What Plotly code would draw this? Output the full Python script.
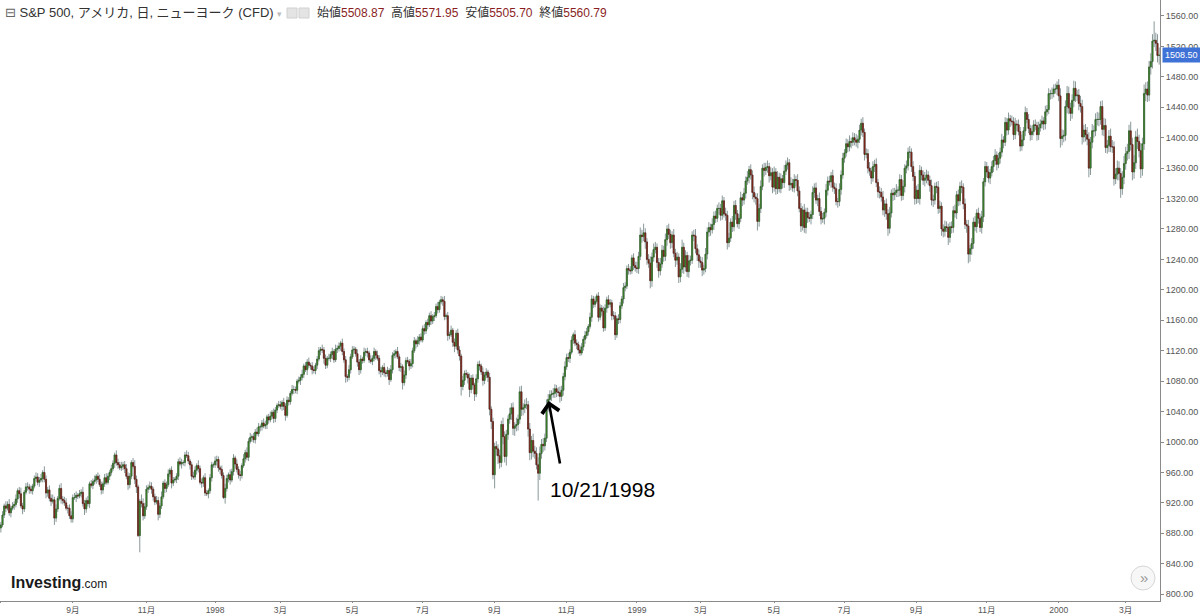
import pandas as pd
import plotly.graph_objects as go

# NYSE holidays in the charted span
holidays = [
    "1997-07-04", "1997-09-01", "1997-11-27", "1997-12-25",
    "1998-01-01", "1998-01-19", "1998-02-16", "1998-04-10", "1998-05-25",
    "1998-07-03", "1998-09-07", "1998-11-26", "1998-12-25",
    "1999-01-01", "1999-01-18", "1999-02-15", "1999-04-02", "1999-05-31",
    "1999-07-05", "1999-09-06", "1999-11-25", "1999-12-24",
    "2000-01-17", "2000-02-21",
]

first_open = 887

# daily closes, one line per month
closes_1997 = [
    891, 904, 916, 913, 918, 907, 913, 916, 918, 925, 936, 932, 916, 912, 934, 941, 941, 938, 936, 942, 952, 954,
    947, 950, 952, 960, 951, 933, 937, 926, 922, 924, 900, 912, 926, 939, 925, 923, 920, 913, 913, 903, 899,
    927, 927, 930, 929, 932, 934, 919, 912, 923, 919, 945, 943, 948, 950, 955, 951, 944, 937, 945, 953, 947,
    955, 960, 965, 972, 983, 973, 970, 966, 968, 970, 965, 955, 944, 955, 973, 968, 951, 941, 877, 922, 919, 903, 915,
    938, 940, 942, 938, 928, 921, 923, 905, 916, 928, 946, 939, 944, 958, 963, 946, 950, 951, 955,
    974, 971, 973, 973, 983, 982, 975, 970, 955, 954, 963, 969, 965, 947, 946, 953, 933, 932, 936, 953, 970, 970,
]
closes_1998 = [
    975, 977, 966, 964, 956, 927, 939, 952, 957, 950, 961, 979, 971, 964, 957, 956, 969, 978, 986, 980,
    1001, 1006, 1007, 1003, 1013, 1011, 1020, 1020, 1025, 1021, 1023, 1033, 1029, 1034, 1039, 1031, 1042, 1048, 1049,
    1047, 1052, 1047, 1035, 1055, 1053, 1064, 1069, 1069, 1068, 1080, 1081, 1085, 1089, 1100, 1095, 1105, 1101, 1100, 1095, 1094, 1101,
    1109, 1120, 1122, 1121, 1110, 1101, 1110, 1110, 1115, 1119, 1108, 1122, 1123, 1126, 1130, 1119, 1108, 1086, 1085, 1095, 1112,
    1121, 1122, 1116, 1105, 1095, 1109, 1107, 1118, 1119, 1117, 1108, 1106, 1110, 1119, 1114, 1110, 1094, 1092, 1098, 1091,
    1090, 1094, 1082, 1095, 1114, 1116, 1119, 1112, 1098, 1099, 1078, 1088, 1107, 1106, 1100, 1103, 1120, 1133, 1129, 1133, 1138, 1134,
    1149, 1146, 1157, 1154, 1166, 1159, 1165, 1166, 1178, 1174, 1184, 1187, 1185, 1165, 1166, 1140, 1141, 1147, 1131, 1126, 1143, 1121,
    1113, 1073, 1081, 1090, 1089, 1084, 1069, 1084, 1075, 1063, 1083, 1102, 1100, 1092, 1081, 1088, 1092, 1085, 1043, 1027, 957,
    994, 991, 982, 973, 1023, 1007, 981, 1010, 1030, 1037, 1045, 1018, 1021, 1023, 1030, 1066, 1043, 1045, 1049, 1049, 1017,
    986, 1002, 988, 985, 970, 959, 985, 997, 995, 1005, 1047, 1056, 1062, 1063, 1064, 1070, 1066, 1065, 1060, 1068, 1086, 1099,
    1111, 1110, 1118, 1134, 1141, 1130, 1128, 1121, 1117, 1125, 1135, 1140, 1145, 1152, 1164, 1188, 1181, 1185, 1192, 1164,
    1176, 1172, 1150, 1176, 1187, 1181, 1183, 1166, 1166, 1141, 1162, 1161, 1179, 1188, 1203, 1205, 1228, 1226, 1225, 1242, 1232, 1229,
]
closes_1999 = [
    1228, 1244, 1272, 1270, 1275, 1263, 1240, 1235, 1212, 1243, 1253, 1256, 1236, 1225, 1234, 1252, 1244, 1266, 1280,
    1273, 1262, 1272, 1248, 1239, 1243, 1217, 1227, 1256, 1230, 1245, 1224, 1238, 1239, 1272, 1271, 1254, 1246, 1238,
    1236, 1226, 1228, 1247, 1276, 1282, 1279, 1286, 1297, 1294, 1307, 1307, 1298, 1317, 1300, 1298, 1262, 1268, 1289, 1283, 1311, 1300, 1287,
    1294, 1321, 1318, 1327, 1343, 1348, 1358, 1351, 1328, 1322, 1320, 1290, 1307, 1336, 1360, 1357, 1361, 1362, 1350, 1354, 1335,
    1355, 1333, 1348, 1333, 1346, 1341, 1356, 1364, 1367, 1338, 1340, 1334, 1345, 1344, 1330, 1307, 1284, 1305, 1282, 1302,
    1295, 1294, 1299, 1328, 1334, 1318, 1320, 1303, 1293, 1294, 1302, 1331, 1343, 1342, 1350, 1335, 1333, 1316, 1316, 1332, 1351, 1373,
    1380, 1392, 1388, 1395, 1394, 1400, 1397, 1394, 1398, 1410, 1419, 1407, 1378, 1379, 1360, 1356, 1347, 1362, 1365, 1341, 1329,
    1328, 1322, 1305, 1313, 1300, 1281, 1301, 1327, 1325, 1328, 1331, 1331, 1345, 1324, 1336, 1360, 1363, 1381, 1381, 1362, 1349, 1320,
    1331, 1320, 1357, 1351, 1344, 1347, 1351, 1344, 1337, 1318, 1318, 1336, 1335, 1307, 1310, 1280, 1277, 1283, 1282, 1269, 1283,
    1282, 1304, 1301, 1325, 1317, 1336, 1335, 1313, 1286, 1284, 1247, 1254, 1261, 1289, 1283, 1301, 1294, 1282, 1296, 1342, 1362,
    1355, 1347, 1354, 1362, 1370, 1377, 1365, 1373, 1381, 1397, 1394, 1420, 1410, 1425, 1422, 1421, 1404, 1418, 1417, 1408, 1389,
    1397, 1409, 1433, 1424, 1412, 1404, 1408, 1417, 1416, 1404, 1413, 1418, 1422, 1418, 1434, 1437, 1458, 1458, 1458, 1464, 1464, 1469,
]
closes_2000 = [
    1455, 1399, 1402, 1403, 1441, 1458, 1439, 1432, 1449, 1465, 1455, 1456, 1445, 1441, 1401, 1410, 1404, 1398, 1360, 1394,
    1409, 1409, 1424, 1424, 1424, 1441, 1411, 1416, 1387, 1390, 1402, 1388, 1388, 1346, 1352, 1360, 1353, 1333, 1348, 1366,
    1379, 1382, 1409, 1391, 1355, 1367, 1401, 1395, 1383, 1359, 1392, 1458, 1464, 1456, 1493, 1500, 1527, 1528, 1524, 1508, 1508.5,
]

# wick length above the body / below the body, points
upper_1997 = [
    4, 5, 3, 6, 4, 7, 3, 5, 4, 6, 3, 5, 8, 4, 3, 5, 6, 4, 5, 3, 4, 6,
    5, 4, 6, 3, 8, 5, 4, 6, 5, 7, 4, 6, 3, 5, 7, 4, 5, 6, 4, 5, 6,
    4, 6, 5, 3, 5, 4, 7, 5, 4, 6, 3, 5, 4, 6, 3, 5, 6, 4, 3, 5, 6,
    4, 3, 5, 4, 3, 6, 5, 4, 6, 4, 5, 6, 5, 4, 3, 6, 8, 5, 3, 3, 9, 7, 5,
    5, 4, 6, 5, 3, 4, 6, 5, 4, 7, 3, 5, 4, 6, 3, 5, 4, 3, 4,
    4, 6, 5, 3, 4, 6, 5, 3, 4, 6, 5, 3, 7, 4, 5, 3, 6, 4, 3, 5, 4, 3,
]
lower_1997 = [
    6, 3, 4, 5, 3, 4, 6, 3, 5, 4, 5, 6, 3, 7, 4, 3, 5, 6, 4, 5, 3, 4,
    4, 6, 3, 5, 4, 7, 5, 4, 6, 3, 9, 5, 4, 3, 6, 5, 4, 3, 7, 4, 5,
    5, 3, 6, 4, 3, 5, 4, 8, 5, 4, 6, 3, 5, 4, 5, 4, 3, 6, 5, 4, 3,
    3, 5, 4, 3, 6, 4, 5, 3, 4, 5, 6, 4, 7, 5, 4, 3, 6, 8, 2, 22, 5, 6, 4,
    4, 5, 3, 6, 5, 4, 3, 8, 5, 4, 3, 6, 5, 3, 4, 7, 4, 3, 5,
    5, 3, 6, 4, 5, 3, 4, 6, 5, 3, 4, 6, 5, 3, 6, 5, 4, 3, 6, 4, 5, 4,
]
upper_1998 = [
    6, 5, 4, 3, 5, 4, 6, 5, 3, 7, 4, 5, 3, 6, 4, 5, 3, 6, 4, 7,
    4, 6, 3, 5, 4, 6, 5, 3, 4, 6, 5, 3, 4, 6, 3, 5, 4, 3, 5,
    5, 3, 6, 4, 5, 4, 3, 6, 5, 4, 3, 5, 4, 6, 3, 5, 4, 6, 3, 5, 4, 3,
    4, 5, 3, 6, 4, 5, 3, 6, 4, 5, 3, 6, 4, 5, 3, 6, 4, 5, 3, 6, 4,
    5, 4, 3, 6, 4, 5, 3, 6, 4, 5, 3, 6, 4, 5, 3, 6, 4, 5, 3, 6,
    4, 5, 3, 6, 4, 5, 3, 6, 4, 5, 3, 6, 4, 5, 3, 6, 4, 5, 3, 6, 4, 5,
    4, 6, 3, 5, 4, 6, 3, 5, 4, 6, 3, 5, 4, 7, 3, 5, 4, 6, 3, 5, 4, 6,
    5, 3, 6, 4, 5, 3, 6, 4, 5, 3, 6, 4, 5, 3, 6, 4, 5, 3, 6, 4, 5,
    5, 7, 6, 8, 5, 9, 7, 6, 5, 8, 6, 7, 5, 9, 6, 7, 8, 6, 7, 9, 5,
    8, 6, 9, 7, 8, 10, 9, 7, 8, 6, 9, 7, 6, 5, 7, 6, 5, 6, 8, 6, 5, 7,
    5, 6, 4, 5, 3, 6, 5, 4, 6, 5, 4, 6, 5, 3, 6, 5, 4, 6, 3, 5,
    5, 4, 6, 5, 4, 6, 5, 4, 6, 5, 4, 6, 5, 4, 6, 5, 4, 6, 5, 4, 6, 5,
]
lower_1998 = [
    4, 6, 5, 6, 4, 2, 8, 4, 5, 6, 3, 5, 6, 4, 5, 7, 4, 3, 5, 4,
    5, 3, 6, 4, 5, 3, 4, 6, 5, 3, 4, 6, 5, 3, 4, 6, 5, 4, 3,
    4, 6, 5, 7, 3, 5, 4, 3, 6, 4, 5, 3, 6, 4, 5, 3, 7, 4, 5, 6, 4, 5,
    5, 3, 6, 4, 7, 5, 4, 3, 5, 6, 4, 3, 5, 4, 6, 5, 4, 8, 6, 4, 5,
    3, 5, 4, 6, 7, 5, 4, 3, 5, 6, 4, 3, 5, 4, 6, 3, 5, 7, 4, 5,
    5, 4, 7, 3, 5, 4, 6, 3, 5, 6, 9, 4, 5, 3, 6, 4, 5, 3, 6, 4, 5, 3,
    3, 5, 4, 6, 3, 5, 4, 6, 3, 5, 4, 3, 6, 5, 4, 7, 5, 3, 6, 8, 4, 5,
    6, 12, 5, 6, 4, 7, 10, 5, 6, 9, 4, 5, 6, 4, 7, 5, 4, 6, 8, 10, 6,
    18, 9, 11, 8, 6, 10, 8, 12, 7, 6, 8, 9, 10, 7, 8, 6, 9, 8, 7, 6, 10,
    10, 9, 8, 7, 6, 36, 9, 7, 8, 6, 5, 7, 6, 8, 5, 6, 7, 5, 8, 6, 7, 5,
    4, 5, 6, 3, 5, 4, 6, 5, 4, 3, 5, 6, 4, 5, 3, 6, 5, 4, 3, 6,
    4, 6, 5, 4, 6, 5, 4, 6, 5, 7, 4, 6, 5, 4, 6, 5, 4, 6, 5, 4, 6, 5,
]
upper_1999 = [
    8, 6, 10, 7, 12, 6, 5, 7, 9, 6, 8, 7, 5, 6, 8, 7, 6, 8, 5,
    7, 6, 5, 8, 6, 7, 5, 8, 10, 6, 7, 5, 8, 6, 5, 7, 9, 6, 7,
    6, 7, 5, 8, 6, 7, 5, 8, 6, 7, 5, 8, 6, 7, 5, 8, 6, 7, 5, 8, 6, 7, 5,
    6, 8, 5, 7, 6, 8, 5, 7, 6, 8, 5, 7, 6, 8, 5, 7, 6, 8, 5, 7, 6,
    7, 5, 8, 6, 7, 5, 8, 6, 7, 5, 8, 6, 7, 5, 8, 6, 7, 5, 8, 6,
    6, 7, 5, 8, 6, 7, 5, 8, 6, 7, 5, 8, 6, 7, 5, 8, 6, 7, 5, 8, 6, 7,
    5, 7, 6, 8, 5, 7, 6, 8, 5, 7, 6, 8, 5, 7, 6, 8, 5, 7, 6, 8, 5,
    7, 6, 8, 5, 7, 6, 8, 5, 7, 6, 8, 5, 7, 6, 8, 5, 7, 6, 8, 5, 7, 6,
    6, 8, 7, 5, 6, 8, 7, 5, 6, 8, 7, 5, 6, 8, 7, 5, 6, 8, 7, 5, 6,
    7, 6, 8, 5, 7, 6, 8, 5, 7, 6, 8, 5, 7, 6, 8, 5, 7, 6, 8, 5, 7,
    6, 8, 5, 7, 6, 8, 5, 7, 6, 8, 5, 7, 6, 8, 5, 7, 6, 8, 5, 7, 6,
    7, 5, 8, 6, 7, 5, 8, 6, 7, 5, 8, 6, 7, 5, 8, 6, 7, 5, 8, 6, 7, 5,
]
lower_1999 = [
    6, 7, 5, 8, 6, 9, 7, 6, 10, 8, 6, 5, 7, 9, 6, 5, 7, 6, 8,
    6, 8, 7, 5, 9, 6, 8, 7, 5, 9, 6, 7, 8, 6, 5, 7, 6, 8, 9,
    7, 8, 6, 5, 7, 6, 8, 5, 7, 6, 5, 8, 7, 6, 5, 7, 9, 6, 5, 7, 6, 8, 5,
    7, 5, 8, 6, 7, 5, 8, 6, 9, 7, 8, 12, 7, 6, 5, 8, 6, 7, 9, 6, 8,
    6, 8, 7, 5, 6, 8, 7, 5, 6, 8, 7, 5, 6, 8, 7, 5, 8, 6, 7, 8,
    7, 5, 8, 6, 7, 5, 8, 6, 7, 5, 8, 6, 7, 5, 8, 6, 7, 5, 8, 6, 7, 5,
    6, 5, 7, 6, 8, 5, 7, 6, 8, 5, 7, 6, 8, 5, 7, 6, 8, 5, 7, 6, 8,
    8, 6, 7, 9, 8, 10, 7, 6, 8, 7, 6, 9, 8, 7, 6, 8, 7, 6, 8, 7, 6, 8,
    7, 6, 8, 7, 6, 8, 7, 6, 8, 7, 9, 6, 8, 7, 6, 9, 8, 7, 6, 10, 7,
    8, 7, 6, 8, 7, 6, 8, 7, 6, 9, 12, 10, 8, 7, 6, 8, 7, 6, 8, 7, 6,
    7, 6, 8, 5, 7, 6, 8, 5, 7, 6, 8, 5, 7, 6, 8, 5, 7, 6, 8, 5, 7,
    6, 8, 7, 5, 6, 8, 7, 5, 6, 8, 7, 5, 6, 8, 7, 5, 6, 8, 7, 5, 6, 8,
]
upper_2000 = [
    8, 10, 9, 7, 8, 10, 9, 7, 8, 10, 9, 7, 8, 10, 9, 7, 8, 10, 9, 7,
    9, 7, 8, 10, 9, 7, 8, 10, 9, 7, 8, 10, 9, 7, 8, 10, 9, 7, 8, 10,
    9, 10, 8, 12, 9, 10, 8, 11, 9, 10, 8, 12, 9, 10, 8, 11, 9, 25, 10, 12, 10,
]
lower_2000 = [
    7, 12, 9, 8, 7, 9, 8, 10, 7, 9, 8, 7, 9, 8, 10, 7, 9, 8, 12, 9,
    8, 9, 7, 8, 9, 7, 8, 9, 7, 8, 9, 7, 8, 9, 7, 8, 9, 12, 8, 9,
    8, 9, 10, 8, 11, 9, 8, 10, 9, 12, 9, 8, 10, 9, 8, 10, 9, 8, 10, 9, 12,
]

y_ticks = list(range(800, 1561, 40))

closes = closes_1997 + closes_1998 + closes_1999 + closes_2000
upper = upper_1997 + upper_1998 + upper_1999 + upper_2000
lower = lower_1997 + lower_1998 + lower_1999 + lower_2000

dates = pd.bdate_range("1997-07-01", "2000-03-29", freq="C", holidays=holidays)
assert len(dates) == len(closes) == len(upper) == len(lower), (
    len(dates), len(closes), len(upper), len(lower))

opens = [first_open] + closes[:-1]
body_hi = [max(o, c) for o, c in zip(opens, closes)]
body_lo = [min(o, c) for o, c in zip(opens, closes)]
highs = [b + u for b, u in zip(body_hi, upper)]
lows = [b - l for b, l in zip(body_lo, lower)]
x = list(range(len(closes)))

# month ticks on odd months, year label in January
tickvals, ticktext = [], []
prev_month = None
for i, d in enumerate(dates):
    if d.month != prev_month:
        prev_month = d.month
        if d.month % 2 == 1:
            tickvals.append(i)
            ticktext.append(str(d.year) if d.month == 1 else f"{d.month}月")

PLOT_W, PLOT_H = 1160, 601


def px(v):
    return v / PLOT_W


def py(v):
    return (PLOT_H - v) / PLOT_H


fig = go.Figure()

# wicks
fig.add_trace(
    go.Candlestick(
        x=x, open=opens, high=highs, low=lows, close=closes,
        increasing=dict(line=dict(color="#8a9898", width=1), fillcolor="#8a9898"),
        decreasing=dict(line=dict(color="#8a9898", width=1), fillcolor="#8a9898"),
        showlegend=False, hoverinfo="skip",
    )
)
# bodies
fig.add_trace(
    go.Candlestick(
        x=x, open=opens, high=body_hi, low=body_lo, close=closes,
        increasing=dict(line=dict(color="#2c5a1e", width=0.6), fillcolor="#43992e"),
        decreasing=dict(line=dict(color="#5a1a10", width=0.6), fillcolor="#962e1e"),
        showlegend=False, hoverinfo="skip",
    )
)

axis_font = dict(family="Liberation Sans, Noto Sans CJK JP", size=8.5, color="#555")

fig.update_layout(
    width=1200,
    height=616,
    margin=dict(l=0, r=40, t=0, b=15),
    paper_bgcolor="white",
    plot_bgcolor="white",
    boxgap=0.1,
    font=dict(family="Liberation Sans, Noto Sans CJK JP"),
    xaxis=dict(
        range=[-0.5, len(x) - 0.5],
        rangeslider=dict(visible=False),
        automargin=False,
        showgrid=False, zeroline=False,
        showline=True, linecolor="#8a8a8a", linewidth=1,
        ticks="outside", ticklen=1, tickcolor="#8a8a8a",
        tickmode="array", tickvals=tickvals, ticktext=ticktext,
        tickfont=axis_font,
    ),
    yaxis=dict(
        side="right",
        range=[791, 1581],
        automargin=False,
        showgrid=False, zeroline=False,
        showline=True, linecolor="#8a8a8a", linewidth=1,
        ticks="outside", ticklen=3, tickcolor="#8a8a8a",
        tickmode="array", tickvals=y_ticks, tickformat=".2f",
        tickfont=dict(family="Liberation Sans", size=9, color="#555"),
    ),
)

# header line
fig.add_annotation(
    xref="paper", yref="paper", x=px(3), y=py(13), xanchor="left", yanchor="middle",
    text="<span style='font-family:DejaVu Sans;color:#666'>⊟</span> S&P 500, アメリカ, 日, ニューヨーク (CFD) "
         "<span style='color:#bbb;font-size:9px'>▾</span>",
    showarrow=False, font=dict(family="Liberation Sans, Noto Sans CJK JP", size=13, color="#333"),
)
for x0 in (287, 299):
    fig.add_shape(type="rect", xref="paper", yref="paper",
                  x0=px(x0), x1=px(x0 + 10), y0=py(18), y1=py(8),
                  line=dict(color="#d0d0d0", width=1), fillcolor="#e4e4e4")
ohlc_text = "  ".join(
    f"{k}<span style='color:#8b1f1f'>{v}</span>"
    for k, v in [("始値", "5508.87"), ("高値", "5571.95"), ("安値", "5505.70"), ("終値", "5560.79")]
)
fig.add_annotation(
    xref="paper", yref="paper", x=px(315), y=py(13), xanchor="left", yanchor="middle",
    text=ohlc_text, showarrow=False,
    font=dict(family="Liberation Sans, Noto Sans CJK JP", size=12, color="#333"),
)

# last price tag
fig.add_annotation(
    xref="paper", yref="y", x=px(1162), y=closes[-1], xanchor="left", yanchor="middle",
    text=f"{closes[-1]:.2f}", showarrow=False, bgcolor="#3f72d6", borderpad=2,
    font=dict(family="Liberation Sans", size=9, color="white"),
)

# arrow pointing at 10/21/1998
fig.add_annotation(
    x=327.2, y=1054, xref="x", yref="y", ax=13, ay=71, axref="pixel", ayref="pixel",
    text=" ", showarrow=True, arrowhead=4, arrowsize=1.3, arrowwidth=2.6, arrowcolor="black",
)
fig.add_annotation(
    x=359.7, y=937, xref="x", yref="y", text="10/21/1998", showarrow=False,
    font=dict(family="Liberation Sans", size=21, color="black"),
)

# logo
fig.add_annotation(
    xref="paper", yref="paper", x=px(9), y=py(582), xanchor="left", yanchor="middle",
    text="<b>Investing</b><span style='font-size:12px'>.com</span>", showarrow=False,
    font=dict(family="Liberation Sans", size=16, color="#1a1a1a"),
)

# scroll button
fig.add_shape(type="circle", xref="paper", yref="paper",
              x0=px(1131), x1=px(1155), y0=py(590), y1=py(566),
              line=dict(color="#d6d6d6", width=1), fillcolor="#f7f7f7")
fig.add_annotation(
    xref="paper", yref="paper", x=px(1144), y=py(577), xanchor="center", yanchor="middle",
    text="»", showarrow=False,
    font=dict(family="Liberation Sans", size=15, color="#999"),
)

fig.write_html(
    "out.html",
    config={"displayModeBar": False},
    post_script="document.body.style.margin='0';",
)
